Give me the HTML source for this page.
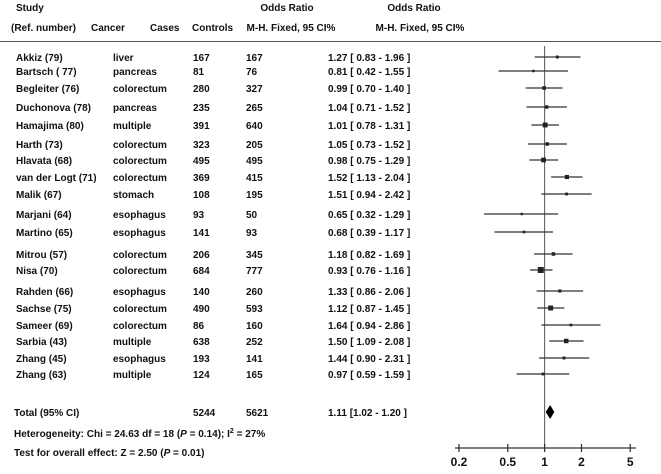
<!DOCTYPE html>
<html><head><meta charset="utf-8"><style>
body{margin:0;background:#fff;}
svg text{font-family:"Liberation Sans",Arial,sans-serif;font-size:10px;font-weight:bold;fill:#111;}
</style></head><body>
<svg id="c" width="661" height="469">
<g>
<text x="16" y="11">Study</text>
<text x="11" y="31">(Ref. number)</text>
<text x="91" y="31">Cancer</text>
<text x="150" y="31">Cases</text>
<text x="192" y="31">Controls</text>
<text x="287" y="11" text-anchor="middle">Odds Ratio</text>
<text x="291" y="31" text-anchor="middle">M-H. Fixed, 95 CI%</text>
<text x="414" y="11" text-anchor="middle">Odds Ratio</text>
<text x="420" y="31" text-anchor="middle">M-H. Fixed, 95 CI%</text>
<line x1="0" y1="41.5" x2="661" y2="41.5" stroke="#555" stroke-width="1"/>
</g>
<g id="rows"></g>
<g id="plot"></g>
<text x="14" y="416">Total (95% CI)</text>
<text x="193" y="416">5244</text>
<text x="246" y="416">5621</text>
<text x="328" y="416">1.11 [1.02 - 1.20 ]</text>
<text x="14" y="437">Heterogeneity: Chi = 24.63 df = 18 (<tspan font-style="italic">P</tspan> = 0.14); I<tspan dy="-4" font-size="7">2</tspan><tspan dy="4"> = 27%</tspan></text>
<text x="14" y="456">Test for overall effect: Z = 2.50 (<tspan font-style="italic">P</tspan> = 0.01)</text>
</svg>
<script>
const studies=["Akkiz (79)","Bartsch ( 77)","Begleiter (76)","Duchonova (78)","Hamajima (80)","Harth (73)","Hlavata (68)","van der Logt (71)","Malik (67)","Marjani (64)","Martino (65)","Mitrou (57)","Nisa (70)","Rahden (66)","Sachse (75)","Sameer (69)","Sarbia (43)","Zhang (45)","Zhang (63)"];
const cancers=["liver","pancreas","colorectum","pancreas","multiple","colorectum","colorectum","colorectum","stomach","esophagus","esophagus","colorectum","colorectum","esophagus","colorectum","colorectum","multiple","esophagus","multiple"];
const cases=[167,81,280,235,391,323,495,369,108,93,141,206,684,140,490,86,638,193,124];
const controls=[167,76,327,265,640,205,495,415,195,50,93,345,777,260,593,160,252,141,165];
const or=[1.27,0.81,0.99,1.04,1.01,1.05,0.98,1.52,1.51,0.65,0.68,1.18,0.93,1.33,1.12,1.64,1.50,1.44,0.97];
const lo=[0.83,0.42,0.70,0.71,0.78,0.73,0.75,1.13,0.94,0.32,0.39,0.82,0.76,0.86,0.87,0.94,1.09,0.90,0.59];
const hi=[1.96,1.55,1.40,1.52,1.31,1.52,1.29,2.04,2.42,1.29,1.17,1.69,1.16,2.06,1.45,2.86,2.08,2.31,1.59];
const rowY=[57,71,88,107,125,144,160,177,194,214,232,254,270,291,308,325,341,358,374];
const ticks=[0.2,0.5,1,2,5];
const total=[1.11,1.02,1.20];
const NS="http://www.w3.org/2000/svg";
const x=v=>459+Math.log10(v/0.2)*122.5;
function mk(tag,attrs,parent){const e=document.createElementNS(NS,tag);for(const k in attrs)e.setAttribute(k,attrs[k]);parent.appendChild(e);return e;}
const rows=document.getElementById('rows'),plot=document.getElementById('plot');
mk('line',{x1:x(1),y1:46,x2:x(1),y2:448,stroke:'#555','stroke-width':1},plot);
const maxN=Math.max(...cases.map((c,i)=>c+controls[i]));
studies.forEach((s,i)=>{
  const y=rowY[i];
  const cols=[[16,s],[113,cancers[i]],[193,cases[i]],[246,controls[i]],[328,or[i].toFixed(2)+" [ "+lo[i].toFixed(2)+" - "+hi[i].toFixed(2)+" ]"]];
  cols.forEach(([cx,t],j)=>{const e=mk('text',{x:cx,y:y+4},rows);e.textContent=t;
    
    });
  const l=mk('line',{x1:x(lo[i]),y1:y,x2:x(hi[i]),y2:y,stroke:'#333','stroke-width':1.3},plot);
  
  
  const sz=2+4*(cases[i]+controls[i])/maxN;
  const r=mk('rect',{x:x(or[i])-sz/2,y:y-sz/2,width:sz,height:sz,fill:'#222'},plot);
  
  
});
const ty=412;
const d=mk('polygon',{points:`${x(total[1])},${ty} ${x(total[0])},${ty-7} ${x(total[2])},${ty} ${x(total[0])},${ty+7}`,fill:'#000'},plot);


const ax=mk('line',{x1:455,y1:448,x2:636,y2:448,stroke:'#333','stroke-width':1.3},plot);


ticks.forEach(t=>{
  const tk=mk('line',{x1:x(t),y1:444,x2:x(t),y2:452,stroke:'#333','stroke-width':1.3},plot);
  
  
  const tl=mk('text',{x:x(t),y:466,'text-anchor':'middle',style:'font-size:12px'},plot);
  tl.textContent=t;
  
  
});
</script>
</body></html>
